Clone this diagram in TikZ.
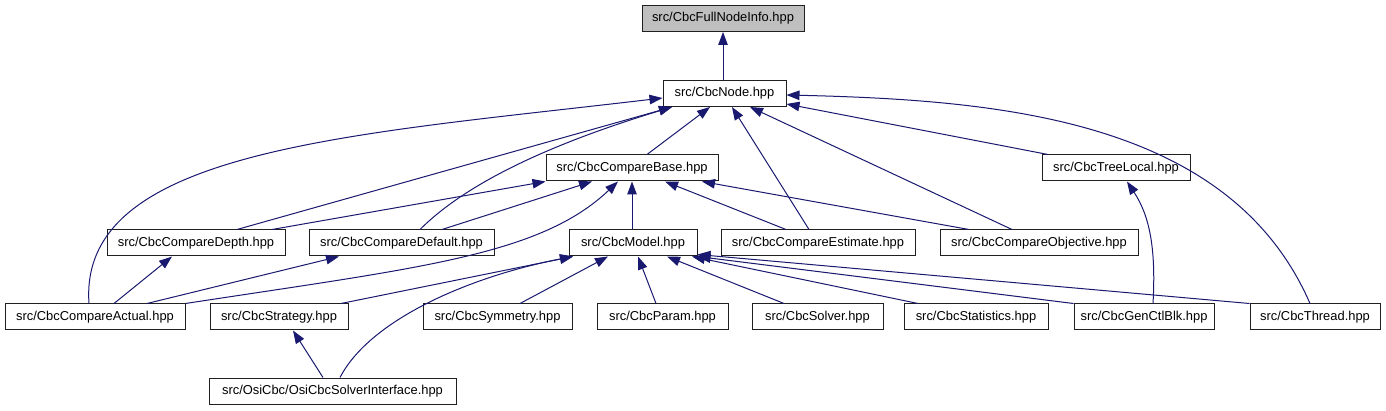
\documentclass[tikz,border=0pt]{standalone}
\usepackage{fontspec}
\setmainfont{Liberation Sans}
\usepackage{xcolor}
\definecolor{edgeNavy}{HTML}{191970}
\definecolor{rootGray}{HTML}{BFBFBF}
\definecolor{boxLine}{HTML}{202020}
\usetikzlibrary{arrows.meta}
\tikzset{
    % Base style for all file boxes
    file box/.style={
        rectangle,
        draw=boxLine,
        line width=1pt,
        fill=white,
        font=\fontsize{12.9}{15}\selectfont,
        text=black,
        align=center,
        inner sep=0pt,
        minimum height=26pt,
    },
    % The root header, shaded gray
    root box/.style={
        file box,
        fill=rootGray,
    },
    % Include arrow - points at the included header
    include/.style={
        -{Triangle[length=13pt, width=9.5pt]},
        line width=1pt,
        draw=edgeNavy,
    },
}

\begin{document}
\begin{tikzpicture}[x=1pt, y=-1pt]
    \path[use as bounding box, fill=white] (0,0) rectangle (1386,411);

    \node (full) [root box, minimum width=162pt] at (723,18.5) {src/CbcFullNodeInfo.hpp};
    \node (node) [file box, minimum width=123pt] at (724.5,93.5) {src/CbcNode.hpp};
    \node (cbase) [file box, minimum width=172pt] at (632,168) {src/CbcCompareBase.hpp};
    \node (tree) [file box, minimum width=148pt] at (1116,168) {src/CbcTreeLocal.hpp};
    \node (depth) [file box, minimum width=178pt] at (196,243) {src/CbcCompareDepth.hpp};
    \node (default) [file box, minimum width=185pt] at (401.5,243) {src/CbcCompareDefault.hpp};
    \node (model) [file box, minimum width=128pt] at (633,243) {src/CbcModel.hpp};
    \node (estimate) [file box, minimum width=194pt] at (818,243) {src/CbcCompareEstimate.hpp};
    \node (objective) [file box, minimum width=198pt] at (1039,243) {src/CbcCompareObjective.hpp};
    \node (actual) [file box, minimum width=180pt] at (95,317) {src/CbcCompareActual.hpp};
    \node (strategy) [file box, minimum width=138pt] at (279,317) {src/CbcStrategy.hpp};
    \node (symmetry) [file box, minimum width=149pt] at (497.5,317) {src/CbcSymmetry.hpp};
    \node (param) [file box, minimum width=131pt] at (662.5,317) {src/CbcParam.hpp};
    \node (solver) [file box, minimum width=131pt] at (817.5,317) {src/CbcSolver.hpp};
    \node (statistics) [file box, minimum width=144pt] at (976,317) {src/CbcStatistics.hpp};
    \node (genctl) [file box, minimum width=140pt] at (1144,317) {src/CbcGenCtlBlk.hpp};
    \node (thread) [file box, minimum width=130pt] at (1315,317) {src/CbcThread.hpp};
    \node (osi) [file box, minimum width=247pt] at (332.5,391) {src/OsiCbc/OsiCbcSolverInterface.hpp};

    % includes of CbcFullNodeInfo.hpp and CbcNode.hpp
    \draw [include] ([xshift=-1.5pt]node.north) -- (full.south);
    \draw [include] ([xshift=15pt]cbase.north) -- ([xshift=-14.5pt]node.south);
    \draw [include] ([xshift=41pt]depth.north) -- ([xshift=-52.5pt]node.south);
    \draw [include] ([xshift=18.5pt]default.north) .. controls +(50,-50) and +(-112,34) .. ([xshift=-52.5pt]node.south);
    \draw [include] ([xshift=-6pt]actual.north) .. controls +(-11,-154) and +(-313,37) .. ([yshift=-4.5pt]node.west);
    \draw [include] ([xshift=-5pt]thread.north) .. controls +(-80,-184) and +(214,5) .. ([yshift=-1.5pt]node.east);
    \draw [include] ([xshift=-68pt]tree.north) -- ([yshift=-10.5pt]node.east);
    \draw [include] ([xshift=-9pt]estimate.north) -- ([xshift=7.5pt]node.south);
    \draw [include] ([xshift=-27pt]objective.north) -- ([xshift=25.5pt]node.south);

    % includes of CbcCompareBase.hpp
    \draw [include] ([xshift=76pt]depth.north) -- (cbase.south west);
    \draw [include] ([xshift=40.5pt]default.north) -- ([xshift=-40pt]cbase.south);
    \draw [include] (actual.north east) .. controls +(235,-36) and +(-78,74) .. ([xshift=-14pt]cbase.south);
    \draw [include] ([xshift=-1pt]model.north) -- (cbase.south);
    \draw [include] ([xshift=-32pt]estimate.north) -- ([xshift=33pt]cbase.south);
    \draw [include] ([xshift=-70pt]objective.north) -- ([xshift=70pt]cbase.south);

    % includes of the compare classes
    \draw [include] ([xshift=19pt]actual.north) -- ([xshift=-24pt]depth.south);
    \draw [include] ([xshift=52pt]actual.north) -- ([xshift=-62.5pt]default.south);

    % includes of CbcModel.hpp
    \draw [include] ([xshift=62pt]strategy.north) -- ([xshift=-60pt]model.south);
    \draw [include] ([xshift=7.5pt]osi.north) .. controls +(30,-58) and +(-103,20) .. ([xshift=-60pt]model.south);
    \draw [include] ([xshift=22.5pt]symmetry.north) -- ([xshift=-25pt]model.south);
    \draw [include] ([xshift=-6.5pt]param.north) -- ([xshift=5pt]model.south);
    \draw [include] ([xshift=-33.5pt]solver.north) -- ([xshift=34pt]model.south);
    \draw [include] ([xshift=-58pt]statistics.north) -- ([xshift=59pt]model.south);
    \draw [include] (genctl.north west) -- (model.south east);
    \draw [include] (thread.north west) -- ([yshift=2pt]model.south east);

    % remaining includes
    \draw [include] ([xshift=9pt]genctl.north) .. controls +(3,-54) and +(23,35) .. ([xshift=11pt]tree.south);
    \draw [include] ([xshift=-9.5pt]osi.north) -- ([xshift=14pt]strategy.south);
\end{tikzpicture}
\end{document}
